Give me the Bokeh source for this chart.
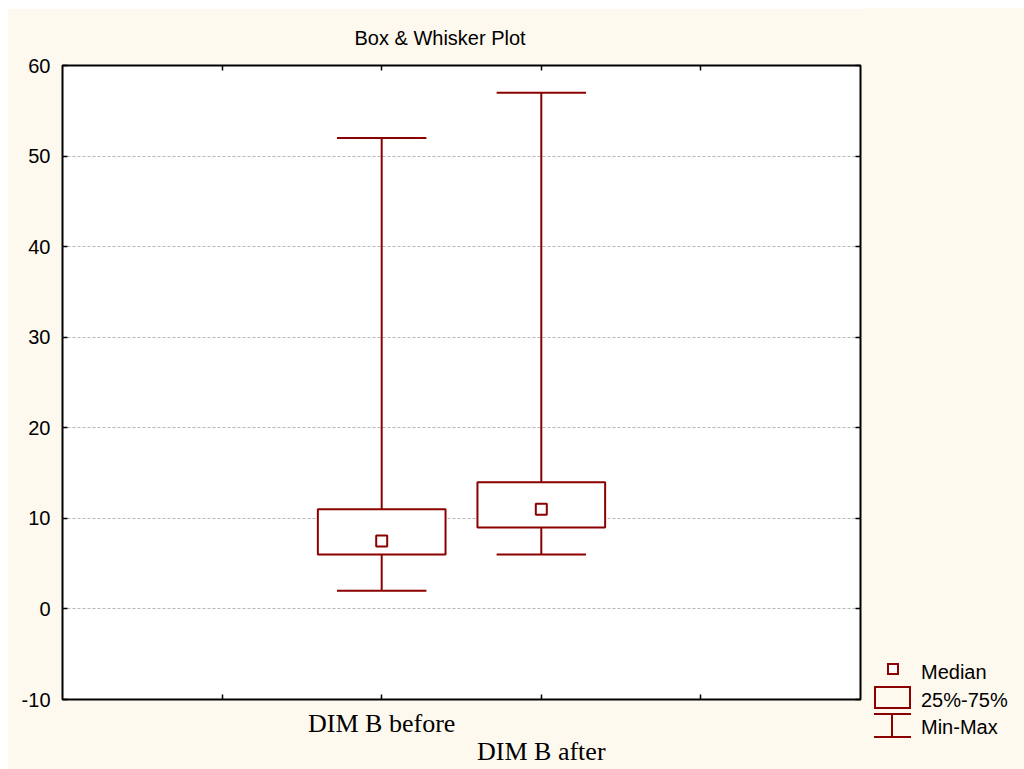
from bokeh.plotting import figure
from bokeh.layouts import row
from bokeh.models import Range1d, FixedTicker, LinearAxis, Div
from bokeh.embed import file_html
from bokeh.resources import INLINE

# ---- data ----
categories = ["DIM B before", "DIM B after"]
positions = [2, 3]
mins = [2, 6]
q1s = [6, 9]
medians = [7.5, 11]
q3s = [11, 14]
maxs = [52, 57]
y_ticks = [-10, 0, 10, 20, 30, 40, 50, 60]
x_ticks = [1, 2, 3, 4]
legend_labels = ["Median", "25%-75%", "Min-Max"]

RED = "#8B0000"
CREAM = "#FEF9EE"

# ---- layout (canvas pixels) ----
OFF_X, OFF_Y = 7, 8
FL, FR, FT, FB = 62, 860, 65, 699
LEG_X = 866
MAIN_W = LEG_X - OFF_X
H = 769 - OFF_Y

p = figure(width=MAIN_W, height=H, output_backend="svg", toolbar_location=None,
           x_range=Range1d(0, 5), y_range=Range1d(-10, 60),
           x_axis_location=None, y_axis_location=None,
           min_border_left=FL - OFF_X, min_border_right=LEG_X - FR,
           min_border_top=FT - OFF_Y, min_border_bottom=769 - FB)
p.background_fill_color = "white"
p.border_fill_color = CREAM
p.outline_line_color = "black"
p.outline_line_width = 2
p.outline_line_alpha = 1.0

p.title.text = "Box & Whisker Plot"
p.title.text_font = "Liberation Sans"
p.title.text_font_size = "20px"
p.title.text_font_style = "normal"
p.title.text_color = "black"
p.title.align = "left"
p.title.offset = 292
p.title.standoff = 33


def style_axis(ax, ticks, overrides, font="Liberation Sans", size="20px",
               standoff=12, tick_in=5):
    ax.ticker = FixedTicker(ticks=ticks)
    ax.axis_line_color = None
    ax.major_tick_in = tick_in
    ax.major_tick_out = 0
    ax.major_tick_line_color = "black" if tick_in else None
    ax.major_tick_line_width = 1.5
    ax.minor_tick_line_color = None
    ax.major_label_overrides = overrides
    ax.major_label_text_font = font
    ax.major_label_text_font_size = size
    ax.major_label_text_color = "black"
    ax.major_label_standoff = standoff


left = LinearAxis()
style_axis(left, y_ticks, {t: str(t) for t in y_ticks})
p.add_layout(left, "left")

right = LinearAxis()
style_axis(right, y_ticks, {t: "" for t in y_ticks}, standoff=0)
p.add_layout(right, "right")

above = LinearAxis()
style_axis(above, x_ticks, {t: "" for t in x_ticks}, standoff=0)
p.add_layout(above, "above")

# bottom axes: staggered category labels
below1 = LinearAxis()
ov1 = {t: "" for t in x_ticks}
ov1[positions[0]] = categories[0]
style_axis(below1, x_ticks, ov1, font="Liberation Serif", size="26px", standoff=9)
p.add_layout(below1, "below")

below2 = LinearAxis()
style_axis(below2, [positions[1]], {positions[1]: categories[1]},
           font="Liberation Serif", size="26px", standoff=-4, tick_in=0)
p.add_layout(below2, "below")

p.xgrid.grid_line_color = None
p.ygrid.ticker = FixedTicker(ticks=[0, 10, 20, 30, 40, 50])
p.ygrid.grid_line_color = "#b8b8b8"
p.ygrid.grid_line_dash = "3 2"
p.ygrid.grid_line_width = 1

# ---- boxes ----
BOX_HW = 0.4
CAP_HW = 0.28
lefts = [x - BOX_HW for x in positions]
rights = [x + BOX_HW for x in positions]
cl = [x - CAP_HW for x in positions]
cr = [x + CAP_HW for x in positions]

p.segment(x0=positions, y0=q3s, x1=positions, y1=maxs, line_color=RED, line_width=2)
p.segment(x0=positions, y0=mins, x1=positions, y1=q1s, line_color=RED, line_width=2)
p.segment(x0=cl, y0=maxs, x1=cr, y1=maxs, line_color=RED, line_width=2)
p.segment(x0=cl, y0=mins, x1=cr, y1=mins, line_color=RED, line_width=2)
p.quad(left=lefts, right=rights, bottom=q1s, top=q3s, fill_color="white",
       line_color=RED, line_width=2)
p.scatter(x=positions, y=medians, marker="square", size=11, fill_color="white",
          line_color=RED, line_width=2)

# ---- legend panel (inline SVG, coordinates relative to panel top-left) ----
LW = 1024 - LEG_X
text_x = 55
text_y = [664, 692, 719]
texts = "".join(
    f'<text x="{text_x}" y="{ty}" dominant-baseline="central" '
    f'font-family="Liberation Sans" font-size="20px" fill="black">{t}</text>'
    for t, ty in zip(legend_labels, text_y))
svg = (
    f'<svg xmlns="http://www.w3.org/2000/svg" width="{LW}" height="{H}" '
    f'style="display:block">'
    f'<rect x="0" y="0" width="{LW}" height="{H}" fill="{CREAM}"/>'
    f'<rect x="22" y="656" width="10" height="10" fill="white" stroke="{RED}" stroke-width="2"/>'
    f'<rect x="9" y="679" width="35" height="21" fill="{CREAM}" stroke="{RED}" stroke-width="2"/>'
    f'<line x1="8" y1="706" x2="45" y2="706" stroke="{RED}" stroke-width="2"/>'
    f'<line x1="8" y1="729" x2="45" y2="729" stroke="{RED}" stroke-width="2"/>'
    f'<line x1="26" y1="706" x2="26" y2="729" stroke="{RED}" stroke-width="2"/>'
    f'{texts}</svg>'
)
legend_div = Div(text=svg, width=LW, height=H, margin=0,
                 styles={"background-color": CREAM, "padding": "0", "margin": "0"})

layout = row(p, legend_div, spacing=0)
layout.margin = (OFF_Y, 0, 0, OFF_X)

open("out.html", "w").write(file_html(layout, INLINE))
